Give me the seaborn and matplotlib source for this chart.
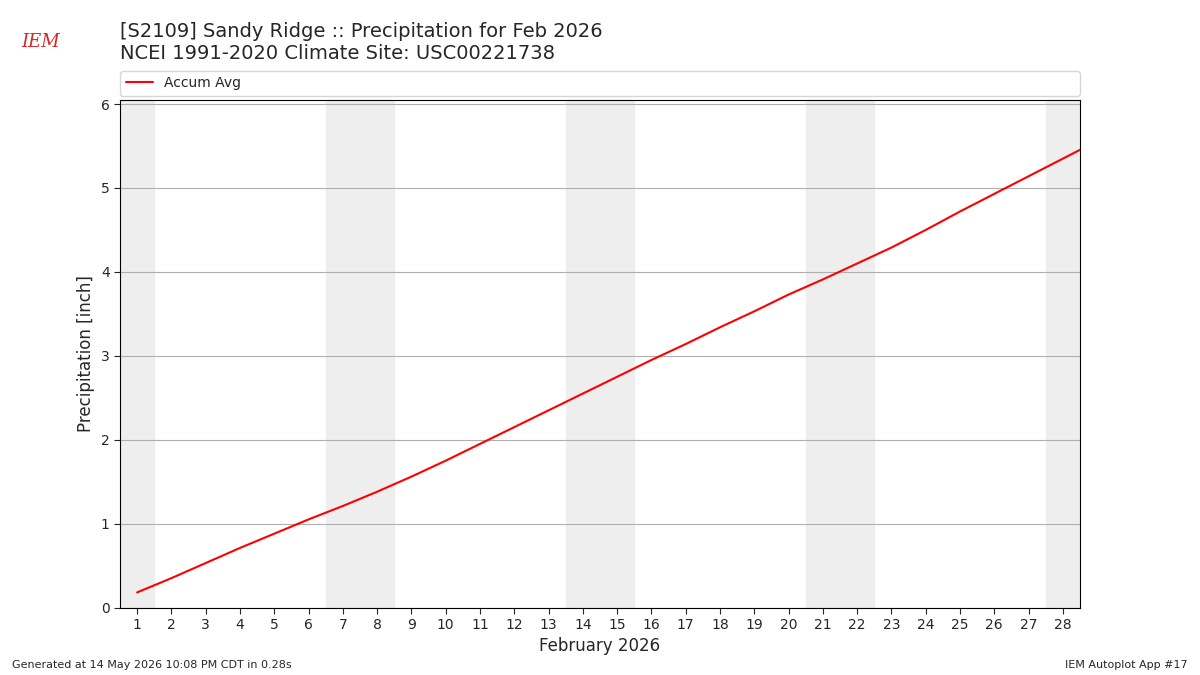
import matplotlib
matplotlib.use("Agg")
import matplotlib.pyplot as plt
import seaborn as sns
import pandas as pd

# daily accumulated average precipitation (inch), Feb 1..29 (last point clipped)
days = list(range(1, 30))
accum_avg = [0.18, 0.35, 0.53, 0.71, 0.88, 1.05, 1.21, 1.38, 1.56, 1.75,
             1.95, 2.15, 2.35, 2.55, 2.75, 2.95, 3.14, 3.34, 3.53, 3.73,
             3.91, 4.10, 4.29, 4.50, 4.72, 4.93, 5.14, 5.35, 5.56]
weekend_days = [1, 7, 8, 14, 15, 21, 22, 28]

df = pd.DataFrame({"day": days, "accum": accum_avg})

sns.set_style("white")
fig = plt.figure(figsize=(12, 6.75), dpi=100)
ax = fig.add_axes([0.1, 0.1, 0.8, 0.752])

for d in weekend_days:
    ax.axvspan(d - 0.5, d + 0.5, color="#eeeeee", zorder=0)

sns.lineplot(data=df, x="day", y="accum", color="red", label="Accum Avg", ax=ax, zorder=3)

ax.set_xlim(0.5, 28.5)
ax.set_ylim(0, 6.05)
ax.set_xticks(range(1, 29))
ax.set_yticks(range(0, 7))
ax.yaxis.grid(True, color="#b0b0b0", linewidth=0.8)
ax.set_axisbelow(True)
ax.tick_params(axis="both", length=4, labelsize=10, left=True, bottom=True)
for s in ax.spines.values():
    s.set_color("black")
    s.set_linewidth(0.8)
ax.set_xlabel("February 2026", fontsize=12)
ax.set_ylabel("Precipitation [inch]", fontsize=12)

ax.legend(loc="lower left", bbox_to_anchor=(0, 1.008, 1, 0.05), mode="expand",
          ncol=1, fontsize=10, frameon=True, borderaxespad=0)

fig.text(0.1, 0.945, "[S2109] Sandy Ridge :: Precipitation for Feb 2026", fontsize=14)
fig.text(0.1, 0.912, "NCEI 1991-2020 Climate Site: USC00221738", fontsize=14)
fig.text(0.018, 0.93, "IEM", fontsize=13, color="#d62728", style="italic", family="serif")
fig.text(0.01, 0.01, "Generated at 14 May 2026 10:08 PM CDT in 0.28s", fontsize=8)
fig.text(0.99, 0.01, "IEM Autoplot App #17", fontsize=8, ha="right")

fig.savefig("out.png", dpi=100)
